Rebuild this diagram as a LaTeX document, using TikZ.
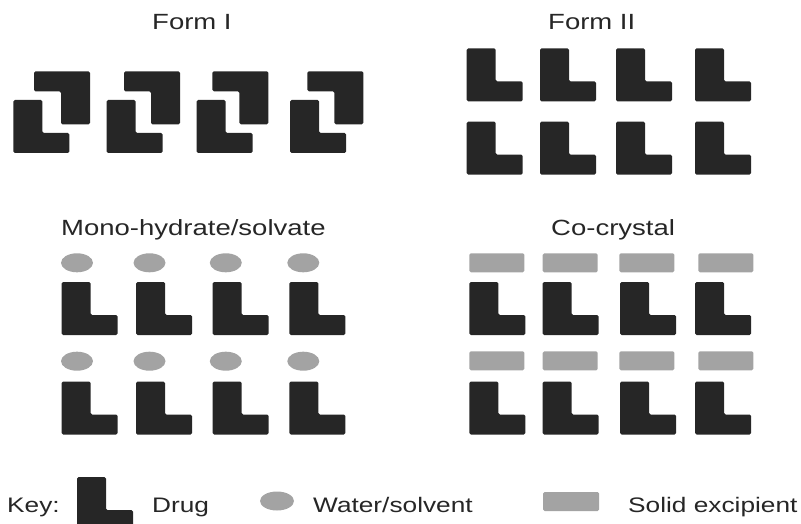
\documentclass[tikz,border=0pt]{standalone}
\usepackage{fontspec}
\newfontfamily\lblfont[FakeStretch=1.25]{Liberation Sans}
\definecolor{drugc}{HTML}{262626}
\definecolor{excc}{HTML}{A3A3A3}
\tikzset{
  lbl/.style={font=\lblfont\fontsize{22}{25}\selectfont, text=drugc, inner sep=0pt, anchor=base west},
  keylbl/.style={lbl, font=\lblfont\fontsize{21}{24}\selectfont},
  drugL/.pic={\fill[drugc, rounded corners=1.5pt] (0,0) -- (29,0) -- (29,33) -- (56,33) -- (56,53) -- (0,53) -- cycle;},
  solv/.style={fill=excc},
  excip/.style={fill=excc, rounded corners=1.5pt}
}
\begin{document}
\begin{tikzpicture}[x=1pt,y=-1pt]
\useasboundingbox (0,0) rectangle (801,524);
\clip (0,0) rectangle (801,524);
% titles
\node[lbl] (t1) at (152,30) {Form I};
\node[lbl] (t2) at (548,30) {Form II};
\node[lbl] (t3) at (61,236) {Mono-hydrate/solvate};
\node[lbl] (t4) at (551,236) {Co-crystal};
% Form I
\foreach \lx/\ux in {13.3/90, 106.7/180, 196.7/268.3, 290/363.3}{
  \pic at (\lx,100) {drugL};
  \pic[rotate=180] at (\ux,124.3) {drugL};
}
% Form II
\foreach \lx in {466.7,540,616,695}{
  \pic at (\lx,48.3) {drugL};
  \pic at (\lx,121.7) {drugL};
}
% Mono-hydrate
\foreach \lx/\ex in {61.7/77, 136/149.5, 212.7/225.8, 289.3/303.3}{
  \fill[solv] (\ex,262.8) ellipse [x radius=16, y radius=9.5];
  \fill[solv] (\ex,361.2) ellipse [x radius=16, y radius=9.5];
  \pic at (\lx,282) {drugL};
  \pic at (\lx,381.5) {drugL};
}
% Co-crystal
\foreach \lx/\rx in {469.3/469.3, 542.7/542.7, 620/619.3, 695/698.3}{
  \fill[excip] (\rx,253.3) rectangle ++(55,19);
  \fill[excip] (\rx,351.3) rectangle ++(55,19);
  \pic at (\lx,282) {drugL};
  \pic at (\lx,381.5) {drugL};
}
% key
\node[keylbl] (k0) at (7,512) {Key:};
\pic at (77,477) {drugL};
\node[keylbl] (k1) at (152,512) {Drug};
\fill[solv] (277,501) ellipse [x radius=17, y radius=9.5];
\node[keylbl] (k2) at (313,512) {Water/solvent};
\fill[excip] (543,492) rectangle (599,511);
\node[keylbl] (k3) at (628,512) {Solid excipient};
\end{tikzpicture}
\end{document}
